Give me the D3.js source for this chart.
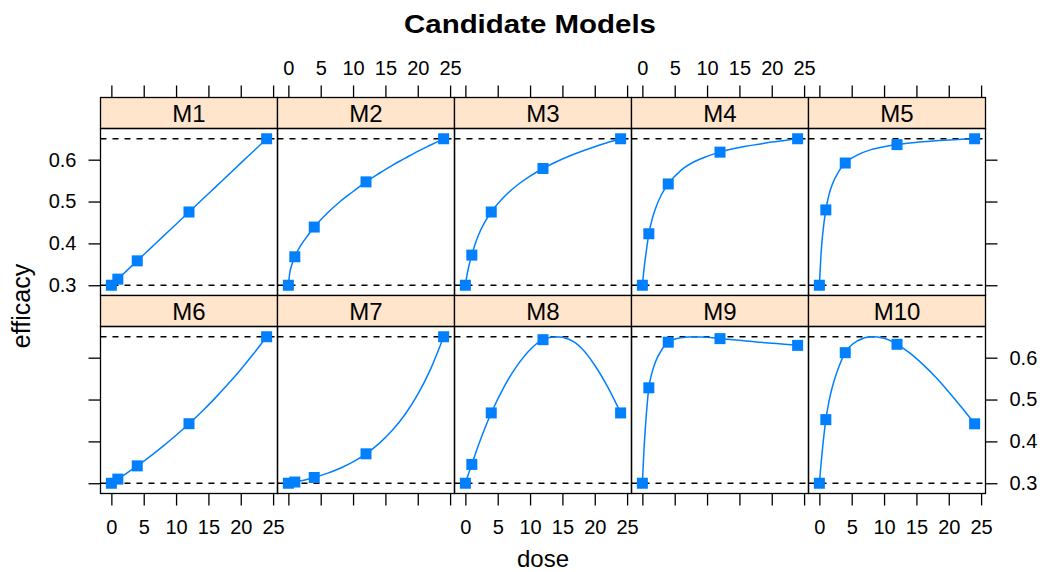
<!DOCTYPE html>
<html>
<head>
<meta charset="utf-8">
<script src="https://cdn.jsdelivr.net/npm/d3@7"></script>
<style>
  body { margin: 0; background: #fff; }
  text { font-family: "Liberation Sans", Arial, sans-serif; fill: #000; }
</style>
</head>
<body>
<svg id="chart"></svg>
<script>
// model names, in panel order (left to right, top row first)
const models = ["M1", "M2", "M3", "M4", "M5", "M6", "M7", "M8", "M9", "M10"];

// doses where the squares sit
const doses = [0, 1, 4, 12, 24];

// efficacy at the doses
const m1Points = [0.3, 0.3146, 0.3583, 0.475, 0.65];
const m2Points = [0.3, 0.368, 0.439, 0.547, 0.65];
const m3Points = [0.3, 0.372, 0.475, 0.579, 0.65];
const m4Points = [0.3, 0.423, 0.542, 0.618, 0.65];
const m5Points = [0.3, 0.48, 0.592, 0.636, 0.65];
const m6Points = [0.3, 0.3099, 0.3415, 0.4422, 0.65];
const m7Points = [0.3, 0.3029, 0.3138, 0.3703, 0.65];
const m8Points = [0.3, 0.345, 0.468, 0.643, 0.468];
const m9Points = [0.3, 0.528, 0.637, 0.6455, 0.6294];
const m10Points = [0.3, 0.452, 0.612, 0.632, 0.442];

// doses where the model curves were read
const curveDoses = [0, 0.25, 0.5, 1, 1.5, 2, 3, 4, 6, 8, 10, 12, 14, 16, 18, 20, 22, 24];

// curve values at curveDoses
const m1Curve = [0.3, 0.3036, 0.3073, 0.3146, 0.3219, 0.3292, 0.3438, 0.3583, 0.3875, 0.4167, 0.4458, 0.475, 0.5042, 0.5333, 0.5625, 0.5917, 0.6208, 0.65];
const m2Curve = [0.3, 0.333, 0.347, 0.368, 0.384, 0.397, 0.419, 0.439, 0.472, 0.5, 0.524, 0.547, 0.567, 0.586, 0.603, 0.62, 0.635, 0.65];
const m3Curve = [0.3, 0.324, 0.343, 0.372, 0.398, 0.419, 0.4507, 0.475, 0.5116, 0.5389, 0.5607, 0.579, 0.5945, 0.6081, 0.6201, 0.631, 0.6409, 0.65];
const m4Curve = [0.3, 0.338, 0.369, 0.423, 0.457, 0.482, 0.518, 0.542, 0.575, 0.595, 0.608, 0.618, 0.626, 0.632, 0.637, 0.642, 0.646, 0.65];
const m5Curve = [0.3, 0.373, 0.42, 0.48, 0.517, 0.541, 0.572, 0.592, 0.612, 0.624, 0.631, 0.636, 0.64, 0.643, 0.6455, 0.647, 0.6487, 0.65];
const m6Curve = [0.3, 0.3024, 0.3049, 0.3099, 0.315, 0.3201, 0.3306, 0.3415, 0.3643, 0.3887, 0.4146, 0.4422, 0.4715, 0.5028, 0.5363, 0.5719, 0.6098, 0.65];
const m7Curve = [0.3, 0.3007, 0.3014, 0.3029, 0.3044, 0.3061, 0.3097, 0.3138, 0.3235, 0.3357, 0.351, 0.3703, 0.3946, 0.4252, 0.4636, 0.5121, 0.5733, 0.65];
const m8Curve = [0.3, 0.312, 0.323, 0.345, 0.368, 0.39, 0.431, 0.468, 0.531, 0.581, 0.619, 0.643, 0.6498, 0.644, 0.622, 0.582, 0.53, 0.468];
const m9Curve = [0.3, 0.38, 0.44, 0.528, 0.565, 0.589, 0.619, 0.637, 0.6475, 0.6502, 0.649, 0.6455, 0.643, 0.64, 0.637, 0.6345, 0.632, 0.6294];
const m10Curve = [0.3, 0.345, 0.385, 0.452, 0.497, 0.53, 0.578, 0.612, 0.641, 0.65, 0.6465, 0.632, 0.611, 0.584, 0.553, 0.518, 0.481, 0.442];

// dashed reference levels (placebo and max effect)
const refLevels = [0.3, 0.65];

const xTicks = [0, 5, 10, 15, 20, 25];
const yTicks = [0.3, 0.4, 0.5, 0.6];

const pointSets = [m1Points, m2Points, m3Points, m4Points, m5Points, m6Points, m7Points, m8Points, m9Points, m10Points];
const curveSets = [m1Curve, m2Curve, m3Curve, m4Curve, m5Curve, m6Curve, m7Curve, m8Curve, m9Curve, m10Curve];

const width = 1042, height = 572;
const nCol = 5;
const gridLeft = 100.5, gridTop = 97.5;
const panelW = 177, panelH = 167, stripH = 31;
const rowH = stripH + panelH;
const tick = 12;
const blue = "#0080ff";

const svg = d3.select("#chart")
  .attr("width", width)
  .attr("height", height);

// lattice pads the data range by 7% on each side
const x = d3.scaleLinear().domain([-1.68, 25.68]).range([0, panelW]);
const y = d3.scaleLinear().domain([0.2755, 0.6745]).range([panelH, 0]);

const line = d3.line()
  .x(d => x(d[0]))
  .y(d => y(d[1]))
  .curve(d3.curveMonotoneX);

function styleAxis(ax) {
  ax.select(".domain").remove();
  ax.selectAll(".tick line").attr("stroke", "#000").attr("stroke-width", 1.3);
  ax.selectAll(".tick text")
    .attr("fill", "#000")
    .style("font-size", "20px")
    .style("font-family", "'Liberation Sans', Arial, sans-serif");
}

models.forEach((name, i) => {
  const col = i % nCol, row = Math.floor(i / nCol);
  const px = gridLeft + col * panelW;
  const py = gridTop + row * rowH;

  const g = svg.append("g").attr("transform", `translate(${px},${py})`);

  // strip
  g.append("rect")
    .attr("width", panelW).attr("height", stripH)
    .attr("fill", "#ffe5cc")
    .attr("stroke", "#000").attr("stroke-width", 1.3);
  g.append("text")
    .attr("x", panelW / 2).attr("y", 24.5)
    .attr("text-anchor", "middle")
    .style("font-size", "24px")
    .text(name);

  const p = g.append("g").attr("transform", `translate(0,${stripH})`);

  // reference lines
  p.selectAll(".ref")
    .data(refLevels)
    .enter().append("line")
    .attr("x1", 0).attr("x2", panelW)
    .attr("y1", d => y(d)).attr("y2", d => y(d))
    .attr("stroke", "#000").attr("stroke-width", 1.3)
    .attr("stroke-dasharray", "6,6");

  // model curve
  p.append("path")
    .datum(curveDoses.map((d, k) => [d, curveSets[i][k]]))
    .attr("fill", "none")
    .attr("stroke", blue)
    .attr("stroke-width", 1.5)
    .attr("d", line);

  // squares at the doses
  p.selectAll(".pt")
    .data(doses.map((d, k) => [d, pointSets[i][k]]))
    .enter().append("rect")
    .attr("x", d => x(d[0]) - 5.5)
    .attr("y", d => y(d[1]) - 5.5)
    .attr("width", 11).attr("height", 11)
    .attr("fill", blue);

  // panel border
  p.append("rect")
    .attr("width", panelW).attr("height", panelH)
    .attr("fill", "none")
    .attr("stroke", "#000").attr("stroke-width", 1.3);

  // x axes: top row gets them above the strip, bottom row below the panel
  if (row === 0) {
    const ax = g.append("g")
      .call(d3.axisTop(x).tickValues(xTicks).tickSize(tick).tickPadding(11)
        .tickFormat(col % 2 === 1 ? d3.format("d") : () => ""));
    styleAxis(ax);
  } else {
    const ax = p.append("g")
      .attr("transform", `translate(0,${panelH})`)
      .call(d3.axisBottom(x).tickValues(xTicks).tickSize(tick).tickPadding(14)
        .tickFormat(col % 2 === 0 ? d3.format("d") : () => ""));
    styleAxis(ax);
  }

  // y axes: left on first column, right on last column
  if (col === 0) {
    const ax = p.append("g")
      .call(d3.axisLeft(y).tickValues(yTicks).tickSize(tick).tickPadding(12)
        .tickFormat(row === 0 ? d3.format(".1f") : () => ""));
    styleAxis(ax);
  }
  if (col === nCol - 1) {
    const ax = p.append("g")
      .attr("transform", `translate(${panelW},0)`)
      .call(d3.axisRight(y).tickValues(yTicks).tickSize(tick).tickPadding(12)
        .tickFormat(row === 1 ? d3.format(".1f") : () => ""));
    styleAxis(ax);
  }
});

// title and axis labels
svg.append("text")
  .attr("x", 530).attr("y", 33)
  .attr("text-anchor", "middle")
  .attr("textLength", 252)
  .attr("lengthAdjust", "spacingAndGlyphs")
  .style("font-size", "26px")
  .style("font-weight", "bold")
  .text("Candidate Models");

svg.append("text")
  .attr("x", 543).attr("y", 567)
  .attr("text-anchor", "middle")
  .style("font-size", "24px")
  .text("dose");

svg.append("text")
  .attr("transform", "translate(30,306) rotate(-90)")
  .attr("text-anchor", "middle")
  .style("font-size", "25px")
  .text("efficacy");
</script>
</body>
</html>
